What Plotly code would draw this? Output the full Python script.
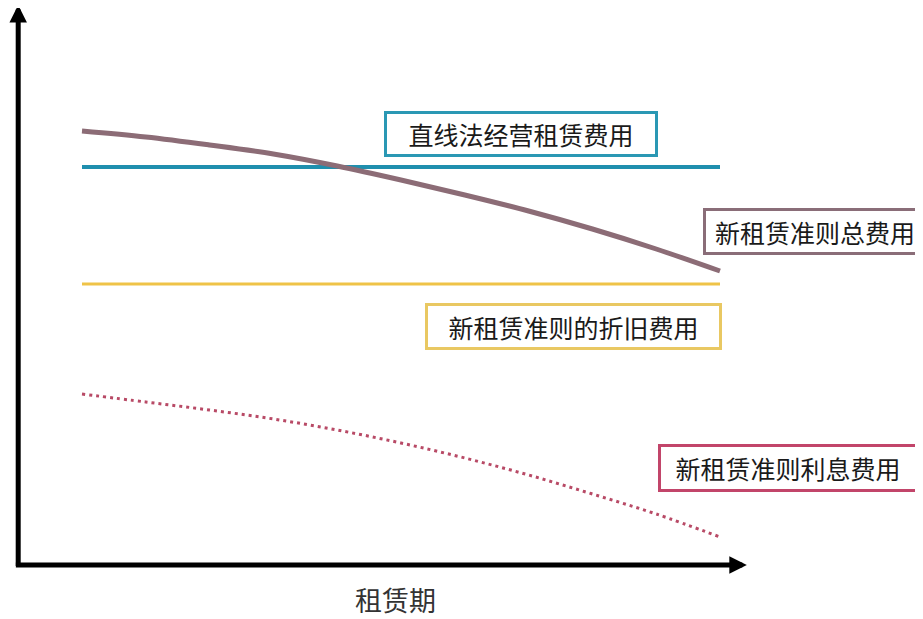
import plotly.graph_objects as go

# lease periods
periods = [0, 1, 2, 3, 4, 5, 6, 7, 8, 9, 10]

# expense levels (arbitrary units)
straight_line_lease = [99.5, 99.5, 99.5, 99.5, 99.5, 99.5, 99.5, 99.5, 99.5, 99.5, 99.5]
new_total_expense = [108.5, 107.0, 105.0, 102.75, 99.75, 96.25, 92.5, 88.5, 84.0, 79.0, 73.5]
new_depreciation = [70.25, 70.25, 70.25, 70.25, 70.25, 70.25, 70.25, 70.25, 70.25, 70.25, 70.25]
new_interest = [42.75, 40.75, 38.75, 36.5, 33.75, 30.5, 26.75, 22.5, 17.75, 12.75, 7.0]

labels = ["直线法经营租赁费用", "新租赁准则总费用", "新租赁准则的折旧费用", "新租赁准则利息费用"]
x_title = "租赁期"

OFF = 8               # page body margin of the html page
W, H = 923 - OFF, 619 - OFF
FONT = "Noto Sans CJK SC"

fig = go.Figure()
fig.add_trace(go.Scatter(x=periods, y=straight_line_lease, mode="lines",
                         line=dict(color="#1f8fae", width=4), showlegend=False, hoverinfo="skip"))
fig.add_trace(go.Scatter(x=periods, y=new_depreciation, mode="lines",
                         line=dict(color="#efc348", width=3), showlegend=False, hoverinfo="skip"))
fig.add_trace(go.Scatter(x=periods, y=new_total_expense, mode="lines", line_shape="spline",
                         line=dict(color="#8c6c76", width=5), showlegend=False, hoverinfo="skip"))
fig.add_trace(go.Scatter(x=periods, y=new_interest, mode="lines", line_shape="spline",
                         line=dict(color="#b84a66", width=3, dash="3px,4px"), showlegend=False, hoverinfo="skip"))

annotations = []
# axes with arrows
annotations.append(dict(x=10.42, y=0, ax=-1.06, ay=0, xref="x", yref="y", axref="x", ayref="y",
                        text="", showarrow=True, arrowhead=2, arrowwidth=5, arrowsize=0.7,
                        arrowcolor="#000000"))
annotations.append(dict(x=-1.0, y=140, ax=-1.0, ay=-0.6, xref="x", yref="y", axref="x", ayref="y",
                        text="", showarrow=True, arrowhead=2, arrowwidth=5, arrowsize=0.7,
                        arrowcolor="#000000"))

# labelled boxes: (label, center px x, center px y, box w, box h, border colour)
boxes = [
    (labels[0], 521, 134, 274, 46, "#2a98b4"),
    (labels[1], 815, 231, 224, 47, "#8a6d78"),
    (labels[2], 573.5, 326.5, 297, 47, "#e9c862"),
    (labels[3], 788, 468, 260, 48, "#c2456a"),
]
for txt, cx, cy, bw, bh, col in boxes:
    annotations.append(dict(x=(cx - OFF) / W, y=1 - (cy - OFF) / H, xref="paper", yref="paper",
                            text=txt, showarrow=False, xanchor="center", yanchor="middle",
                            width=bw - 10, height=bh - 10, borderpad=2, borderwidth=3,
                            bordercolor=col, bgcolor="white", align="center", valign="middle",
                            font=dict(family=FONT, size=25, color="#1a1a1a")))

annotations.append(dict(x=(395 - OFF) / W, y=1 - (599 - OFF) / H, xref="paper", yref="paper",
                        text=x_title, showarrow=False, xanchor="center", yanchor="middle",
                        height=30, borderpad=0,
                        font=dict(family=FONT, size=27, color="#333333")))

fig.update_layout(
    width=W, height=H,
    margin=dict(l=0, r=0, t=0, b=0),
    paper_bgcolor="white", plot_bgcolor="white",
    xaxis=dict(range=[(OFF - 82) / 63.8, (923 - 82) / 63.8], visible=False, fixedrange=True),
    yaxis=dict(range=[(565 - 619) / 4, (565 - OFF) / 4], visible=False, fixedrange=True),
    annotations=annotations,
    showlegend=False,
)

fig.write_html("out.html")
